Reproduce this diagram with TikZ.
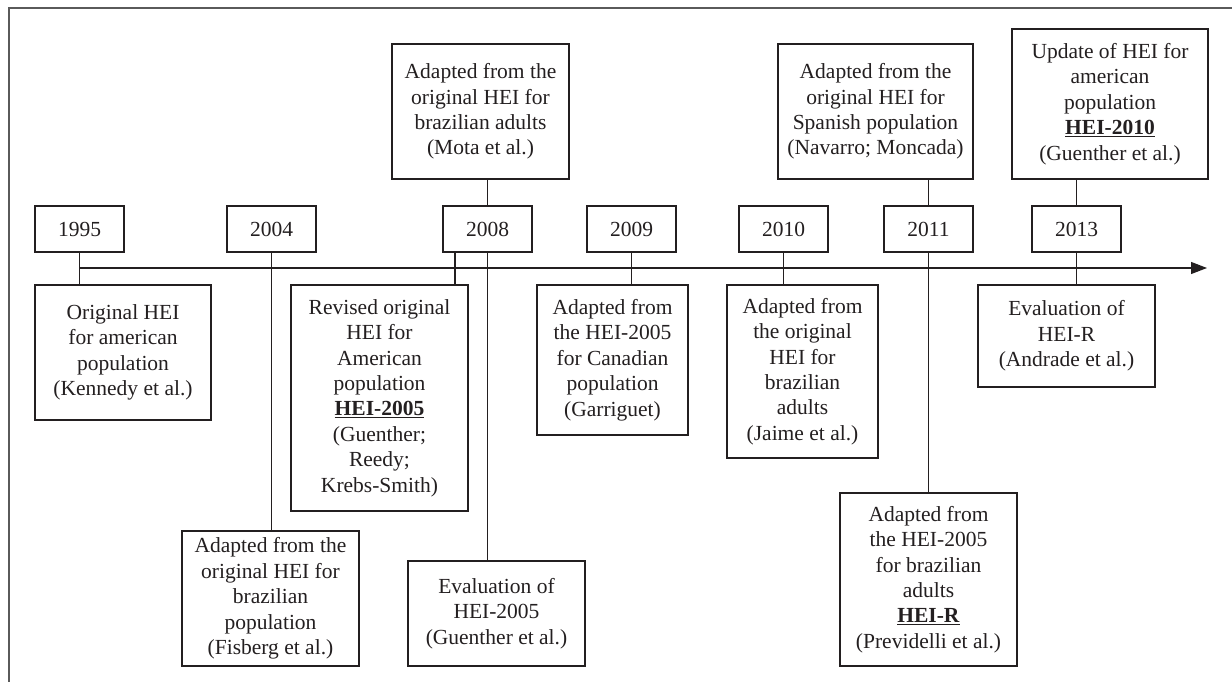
\documentclass[tikz,border=0pt]{standalone}
\usepackage{fontspec}
\setmainfont{Liberation Serif}
\usetikzlibrary{arrows.meta}
\definecolor{ink}{HTML}{231F20}
\definecolor{framegray}{HTML}{5A5A5A}
\begin{document}
\begin{tikzpicture}[x=1pt,y=-1pt,
  every node/.style={font=\fontsize{21.5}{25.4}\selectfont, text=ink},
  box/.style={draw=ink, line width=1.2pt, align=center, inner sep=0pt},
  yearbox/.style={box, minimum width=89pt, minimum height=46pt},
  link/.style={draw=ink, line width=1.2pt},
  axis/.style={draw=ink, line width=1.2pt, -{Triangle[length=16pt,width=12pt]}}
]
\useasboundingbox (0,0) rectangle (1232,682);
\draw[framegray, line width=2pt] (9,682) -- (9,8) -- (1232,8);

% year boxes
\node[yearbox] (y1995) at (79.5,229) {1995};
\node[yearbox] (y2004) at (271.5,229) {2004};
\node[yearbox] (y2008) at (487.5,229) {2008};
\node[yearbox] (y2009) at (631.5,229) {2009};
\node[yearbox] (y2010) at (783.5,229) {2010};
\node[yearbox] (y2011) at (928.5,229) {2011};
\node[yearbox] (y2013) at (1076.5,229) {2013};

% event boxes
\node[box, minimum width=176pt, minimum height=135pt] (orig) at (123,352.5)
  {Original HEI\\for american\\population\\(Kennedy et al.)};
\node[box, minimum width=177pt, minimum height=135pt] (fis) at (270.5,598.5)
  {Adapted from the\\original HEI for\\brazilian\\population\\(Fisberg et al.)};
\node[box, minimum width=177pt, minimum height=135pt] (mota) at (480.5,111.5)
  {Adapted from the\\original HEI for\\brazilian adults\\(Mota et al.)};
\node[box, minimum width=177pt, minimum height=226pt] (rev) at (379.5,398)
  {Revised original\\HEI for\\American\\population\\\underline{\textbf{HEI-2005}}\\(Guenther;\\Reedy;\\Krebs-Smith)};
\node[box, minimum width=177pt, minimum height=105pt] (evalA) at (496.5,613.5)
  {Evaluation of\\HEI-2005\\(Guenther et al.)};
\node[box, minimum width=151pt, minimum height=150pt] (gar) at (612.5,360)
  {Adapted from\\the HEI-2005\\for Canadian\\population\\(Garriguet)};
\node[box, minimum width=151pt, minimum height=173pt] (jaime) at (802.5,371.5)
  {Adapted from\\the original\\HEI for\\brazilian\\adults\\(Jaime et al.)};
\node[box, minimum width=195pt, minimum height=135pt] (nav) at (875.5,111.5)
  {Adapted from the\\original HEI for\\Spanish population\\(Navarro; Moncada)};
\node[box, minimum width=177pt, minimum height=173pt] (prev) at (928.5,579.5)
  {Adapted from\\the HEI-2005\\for brazilian\\adults\\\underline{\textbf{HEI-R}}\\(Previdelli et al.)};
\node[box, minimum width=196pt, minimum height=150pt] (upd) at (1110,104)
  {Update of HEI for\\american\\population\\\underline{\textbf{HEI-2010}}\\(Guenther et al.)};
\node[box, minimum width=177pt, minimum height=102pt] (evalR) at (1066.5,336)
  {Evaluation of\\HEI-R\\(Andrade et al.)};

% timeline
\coordinate (tstart) at (79.5,268);
\coordinate (tend) at (1207,268);
\draw[axis] (tstart) -- (tend);

% connectors
\draw[link] (y1995.south) -- (y1995.south |- orig.north);
\draw[link] (y2004.south) -- (y2004.south |- fis.north);
\draw[link] ([xshift=-32.5pt]y2008.south) -- ([xshift=-32.5pt]y2008.south |- rev.north);
\draw[link] (y2008.south) -- (y2008.south |- evalA.north);
\draw[link] (y2008.north) -- (y2008.north |- mota.south);
\draw[link] (y2009.south) -- (y2009.south |- gar.north);
\draw[link] (y2010.south) -- (y2010.south |- jaime.north);
\draw[link] (y2011.north) -- (y2011.north |- nav.south);
\draw[link] (y2011.south) -- (y2011.south |- prev.north);
\draw[link] (y2013.north) -- (y2013.north |- upd.south);
\draw[link] (y2013.south) -- (y2013.south |- evalR.north);
\end{tikzpicture}
\end{document}
